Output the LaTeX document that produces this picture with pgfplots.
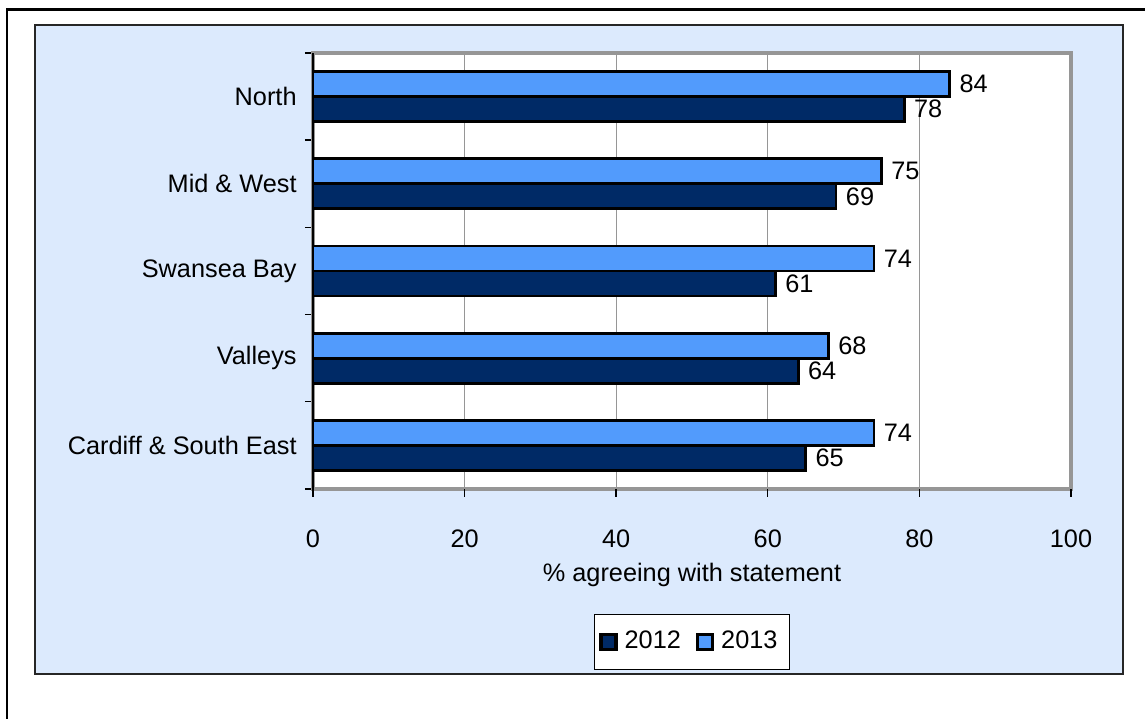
\documentclass[border=0pt]{standalone}
\usepackage{fontspec}
\setmainfont{Liberation Sans}
\usepackage{pgfplots}
\pgfplotsset{compat=1.18}
\definecolor{darkbar}{RGB}{0,42,102}
\definecolor{lightbar}{RGB}{82,155,252}
\definecolor{bgblue}{RGB}{220,234,253}
\definecolor{gridgray}{RGB}{150,150,150}
\begin{document}
\begin{tikzpicture}[x=0.1mm,y=0.1mm]
\path[use as bounding box] (0,0) rectangle (1145,719);
\draw[black,line width=0.85pt] (7,-5) -- (7,709) -- (1150,709);
\draw[fill=bgblue,draw=black!85,line width=0.5pt] (35,45) rectangle (1123,694);
\begin{axis}[
  at={(31.3mm,23.0mm)}, anchor=south west,
  scale only axis, width=75.8mm, height=43.6mm,
  xbar, bar width=2.5mm,
  xmin=0, xmax=100, ymin=0.5, ymax=5.5,
  xtick={0,20,...,100},
  ytick={1,2,3,4,5},
  yticklabels={Cardiff \& South East,Valleys,Swansea Bay,Mid \& West,North},
  minor ytick={0.5,1.5,...,5.5},
  tick pos=left,
  major tick length=0pt,
  every minor tick/.style={black,line width=0.4pt},
  minor tick length=0.8mm,
  tick align=outside,
  xtick style={black,line width=0.4pt},
  extra x ticks={0,20,40,60,80,100},
  extra x tick labels={},
  extra x tick style={major tick length=0.8mm, grid=none},
  xmajorgrids, major grid style={gridgray,line width=0.35pt},
  axis line style={gridgray,line width=0.9pt},
  axis background/.style={fill=white},
  tick label style={font=\fontsize{7.2}{8.5}\selectfont},
  /pgf/number format/assume math mode=true,
  xticklabel style={yshift=-2.8mm},
  yticklabel style={xshift=-0.4mm},
  xlabel={\% agreeing with statement},
  xlabel style={font=\fontsize{7.2}{8.5}\selectfont, at={(axis description cs:0.5,-0.197)}, anchor=center},
  nodes near coords,
  every node near coord/.append style={font=\fontsize{7.2}{8.5}\selectfont, black, inner sep=1pt, xshift=0.5mm},
  legend columns=2,
  legend style={at={(axis description cs:0.5,-0.351)}, anchor=center,
    font=\fontsize{7.2}{8.5}\selectfont, draw=black, line width=0.4pt,
    /tikz/every even column/.append style={column sep=0.8mm},
    inner xsep=0.5mm, inner ysep=0.9mm},
  legend image code/.code={\draw[#1,line width=0.9pt] (0.2mm,-0.75mm) rectangle (1.7mm,0.75mm);},
  clip=false,
]
\addplot[fill=darkbar,draw=black,line width=0.8pt,bar shift=-1.25mm] coordinates {(65,1) (64,2) (61,3) (69,4) (78,5)};
\addplot[fill=lightbar,draw=black,line width=0.8pt,bar shift=1.25mm] coordinates {(74,1) (68,2) (74,3) (75,4) (84,5)};
\legend{2012,2013}
\draw[black,line width=0.6pt] (rel axis cs:0,0) -- (rel axis cs:0,1);
\end{axis}
\end{tikzpicture}
\end{document}
